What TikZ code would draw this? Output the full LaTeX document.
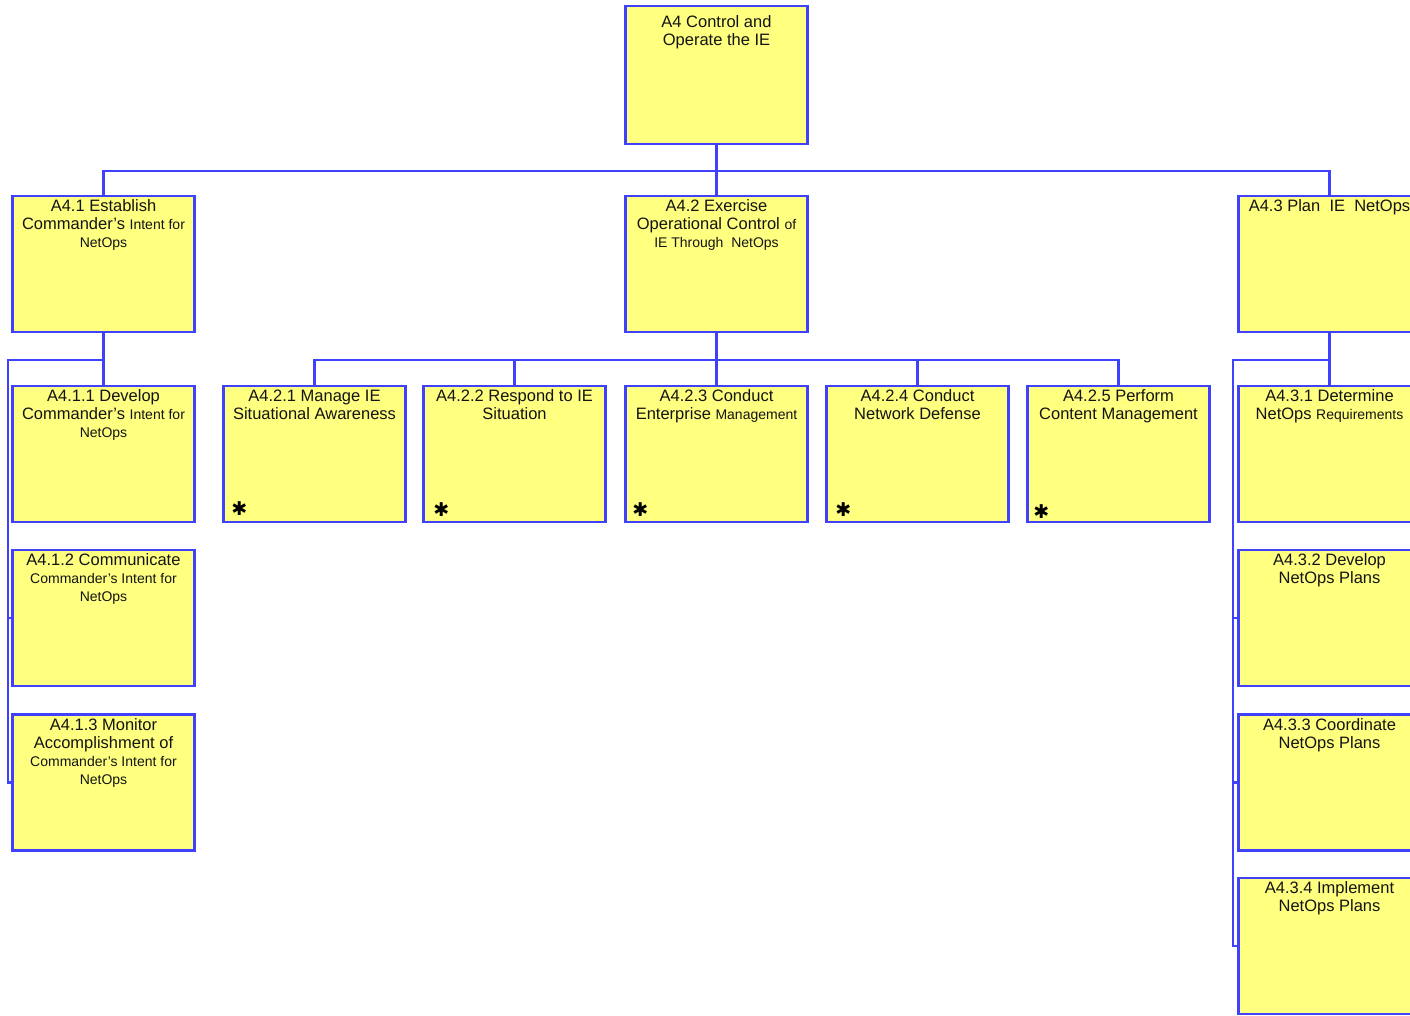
\documentclass[tikz,border=0pt]{standalone}
\usepackage{fontspec}
\setmainfont{Liberation Sans}
\newfontfamily\symfont{DejaVu Sans}
\usetikzlibrary{positioning}
\definecolor{boxyellow}{RGB}{255,255,128}
\definecolor{boxblue}{RGB}{64,64,255}
\definecolor{txt}{RGB}{20,20,20}
\newcommand{\sm}[1]{{\fontsize{14}{18}\selectfont #1}}
\tikzset{
  box/.style={draw=boxblue, fill=boxyellow, line width=2.2pt, rectangle, inner sep=0pt,
              minimum width=182pt, minimum height=136pt},
  lbl/.style={align=center, inner sep=0pt, text=txt, font=\fontsize{16.5}{18}\selectfont},
  conn/.style={draw=boxblue, line width=2.2pt},
  astx/.style={inner sep=0pt, text=black, font=\symfont\fontsize{19}{19}\selectfont}
}
\begin{document}
\begin{tikzpicture}[x=1pt,y=-1pt]
\useasboundingbox (0,0) rectangle (1410,1015);
\clip (0,0) rectangle (1410,1015);
% boxes
\node[box, minimum height=138pt] (A4) at (716.5,75) {};
\node[box] (A41) at (103.5,264) {};
\node[box] (A42) at (716.5,264) {};
\node[box] (A43) at (1329.5,264) {};
\node[box] (A411) at (103.5,454) {};
\node[box] (A412) at (103.5,618) {};
\node[box] (A413) at (103.5,782.5) {};
\node[box] (A421) at (314.5,454) {};
\node[box] (A422) at (514.5,454) {};
\node[box] (A423) at (716.5,454) {};
\node[box] (A424) at (917.5,454) {};
\node[box] (A425) at (1118.5,454) {};
\node[box] (A431) at (1329.5,454) {};
\node[box] (A432) at (1329.5,618) {};
\node[box] (A433) at (1329.5,782.5) {};
\node[box] (A434) at (1329.5,946) {};
% bus coordinates
\coordinate (top bus) at (0,171);
\coordinate (mid bus) at (0,360);
\coordinate (left bus) at (8,360);
\coordinate (right bus) at (1233,360);
% connectors level 1
\draw[conn] (A4.south) -- (A42.north);
\draw[conn] (A41.north) |- (A43.north |- top bus) -- (A43.north);
% A4.1 children
\draw[conn] (A41.south) -- (A411.north);
\draw[conn] (A41.south |- mid bus) -- (left bus) -- (left bus |- A413.west) -- (A413.west);
\draw[conn] (left bus |- A412.west) -- (A412.west);
% A4.2 children
\draw[conn] (A42.south) -- (A423.north);
\draw[conn] (A421.north) |- (A425.north |- mid bus) -- (A425.north);
\draw[conn] (A422.north) -- (A422.north |- mid bus);
\draw[conn] (A424.north) -- (A424.north |- mid bus);
% A4.3 children
\draw[conn] (A43.south) -- (A431.north);
\draw[conn] (A43.south |- mid bus) -- (right bus) -- (right bus |- A434.west) -- (A434.west);
\draw[conn] (right bus |- A432.west) -- (A432.west);
\draw[conn] (right bus |- A433.west) -- (A433.west);
% labels
\node[lbl, below=10.5pt of A4.north] (tA4) {A4 Control and\\Operate the IE};
\node[lbl, below=4.5pt of A41.north] (tA41) {A4.1 Establish\\Commander's \sm{Intent for}\\\sm{NetOps}};
\node[lbl, below=4.5pt of A42.north] (tA42) {A4.2 Exercise\\Operational Control \sm{of}\\\sm{IE Through\ \ NetOps}};
\node[lbl, below=4.5pt of A43.north] (tA43) {A4.3 Plan\ \ IE\ \ NetOps};
\node[lbl, below=4.5pt of A411.north] (tA411) {A4.1.1 Develop\\Commander's \sm{Intent for}\\\sm{NetOps}};
\node[lbl, below=4.5pt of A412.north] (tA412) {A4.1.2 Communicate\\\sm{Commander's Intent for}\\\sm{NetOps}};
\node[lbl, below=4.5pt of A413.north] (tA413) {A4.1.3 Monitor\\Accomplishment of\\\sm{Commander's Intent for}\\\sm{NetOps}};
\node[lbl, below=4.5pt of A421.north] (tA421) {A4.2.1 Manage IE\\Situational Awareness};
\node[lbl, below=4.5pt of A422.north] (tA422) {A4.2.2 Respond to IE\\Situation};
\node[lbl, below=4.5pt of A423.north] (tA423) {A4.2.3 Conduct\\Enterprise \sm{Management}};
\node[lbl, below=4.5pt of A424.north] (tA424) {A4.2.4 Conduct\\Network Defense};
\node[lbl, below=4.5pt of A425.north] (tA425) {A4.2.5 Perform\\Content Management};
\node[lbl, below=4.5pt of A431.north] (tA431) {A4.3.1 Determine\\NetOps \sm{Requirements}};
\node[lbl, below=4.5pt of A432.north] (tA432) {A4.3.2 Develop\\NetOps Plans};
\node[lbl, below=4.5pt of A433.north] (tA433) {A4.3.3 Coordinate\\NetOps Plans};
\node[lbl, below=4.5pt of A434.north] (tA434) {A4.3.4 Implement\\NetOps Plans};
% asterisks
\node[astx] (s1) at ([shift={(17,-15)}]A421.south west) {✱};
\node[astx] (s2) at ([shift={(19,-14)}]A422.south west) {✱};
\node[astx] (s3) at ([shift={(16,-14)}]A423.south west) {✱};
\node[astx] (s4) at ([shift={(18,-14)}]A424.south west) {✱};
\node[astx] (s5) at ([shift={(15,-12)}]A425.south west) {✱};
\end{tikzpicture}
\end{document}
